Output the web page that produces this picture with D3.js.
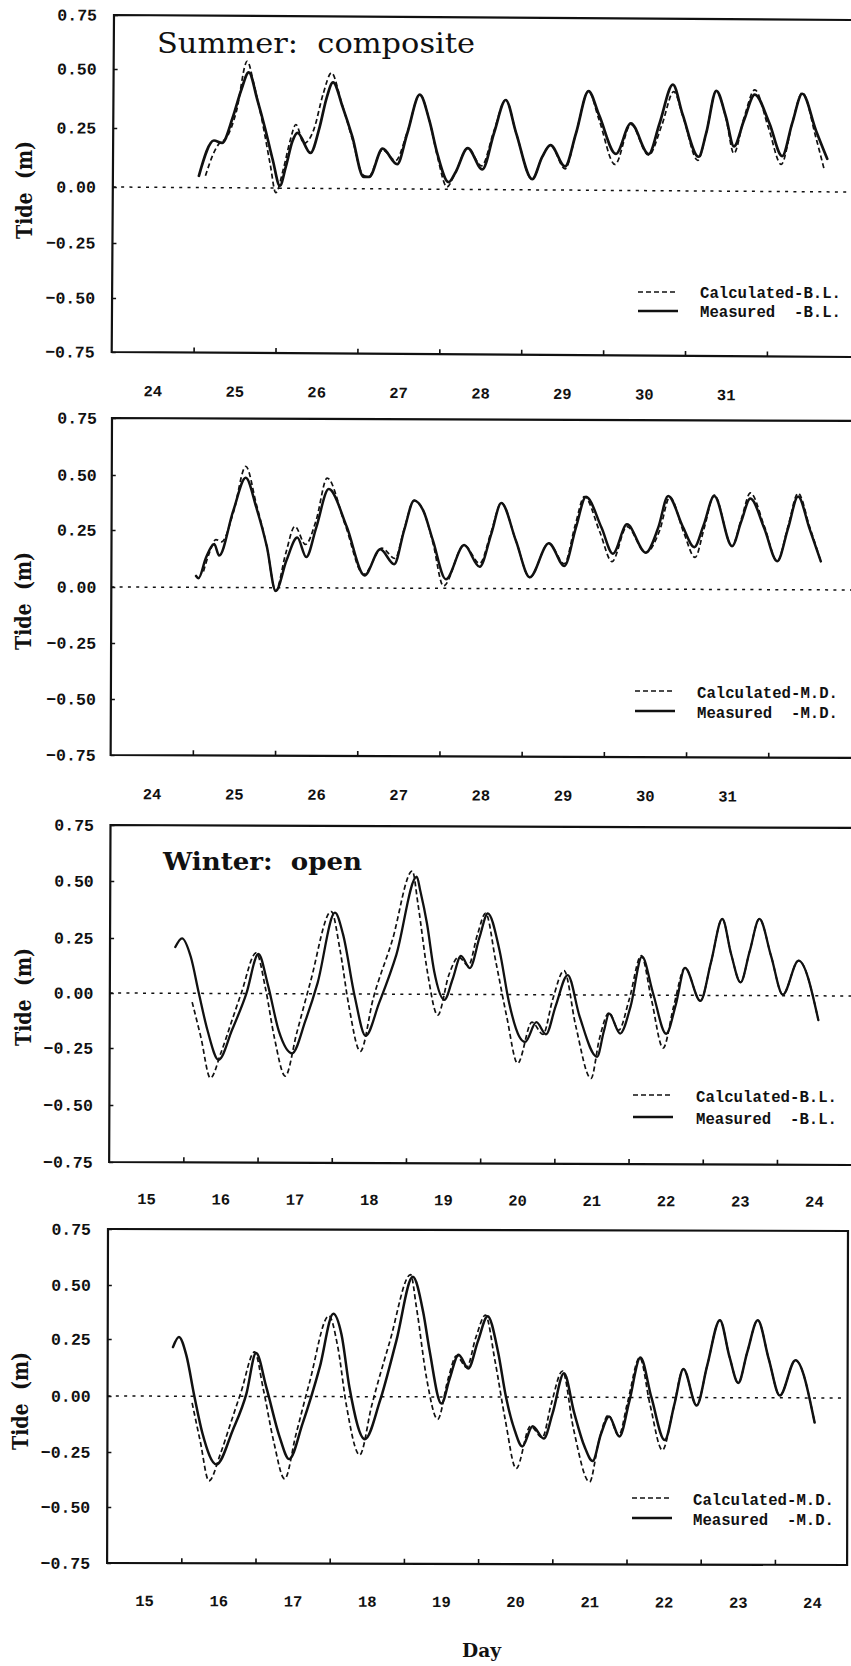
<!DOCTYPE html>
<html><head><meta charset="utf-8">
<script src="https://cdn.jsdelivr.net/npm/d3@7"></script>
<style>body{margin:0;background:#fff}svg{display:block}</style>
</head><body>
<svg id="c" width="851" height="1666"></svg>
<script>
// ---------- data ----------
const tideTicks = [0.75, 0.5, 0.25, 0, -0.25, -0.5, -0.75];
const summerDayLabels = ["24","25","26","27","28","29","30","31"];
const winterDayLabels = ["15","16","17","18","19","20","21","22","23","24"];
const summerTickDays = [25,26,27,28,29,30,31,32];
const winterTickDays = [16,17,18,19,20,21,22,23,24];

// Summer: composite, B.L.  [day, tide m]
const sumBLMeasured = [[25.05,0.05],[25.23,0.20],[25.33,0.19],[25.46,0.30],[25.56,0.415],[25.65,0.49],[25.76,0.37],[25.86,0.245],[25.95,0.12],[26.04,0.01],[26.11,0.09],[26.19,0.20],[26.25,0.235],[26.41,0.15],[26.52,0.26],[26.60,0.38],[26.68,0.45],[26.80,0.345],[26.92,0.22],[27.06,0.05],[27.13,0.05],[27.29,0.17],[27.47,0.105],[27.59,0.235],[27.74,0.40],[27.86,0.29],[27.96,0.15],[28.10,0.03],[28.18,0.07],[28.33,0.175],[28.51,0.085],[28.65,0.24],[28.79,0.38],[28.92,0.24],[29.12,0.045],[29.24,0.14],[29.34,0.19],[29.52,0.10],[29.65,0.24],[29.80,0.42],[29.93,0.32],[30.14,0.155],[30.32,0.285],[30.54,0.155],[30.67,0.285],[30.83,0.45],[30.95,0.325],[31.15,0.145],[31.24,0.245],[31.36,0.425],[31.48,0.315],[31.58,0.19],[31.70,0.30],[31.83,0.41],[32.01,0.29],[32.17,0.15],[32.29,0.29],[32.41,0.415],[32.58,0.26],[32.72,0.14]];
const sumBLCalculated = [[25.13,0.05],[25.22,0.14],[25.30,0.19],[25.38,0.21],[25.50,0.32],[25.63,0.54],[25.72,0.43],[25.82,0.28],[25.92,0.10],[25.99,-0.02],[26.08,0.08],[26.16,0.20],[26.23,0.27],[26.33,0.19],[26.45,0.25],[26.56,0.40],[26.66,0.49],[26.78,0.37],[26.92,0.21],[27.05,0.06],[27.12,0.05],[27.29,0.165],[27.45,0.12],[27.59,0.24],[27.74,0.40],[27.86,0.29],[27.96,0.14],[28.08,0.01],[28.18,0.07],[28.33,0.175],[28.50,0.10],[28.65,0.25],[28.79,0.38],[28.92,0.24],[29.12,0.045],[29.24,0.14],[29.34,0.19],[29.52,0.09],[29.65,0.24],[29.80,0.42],[29.93,0.30],[30.13,0.11],[30.32,0.28],[30.54,0.15],[30.70,0.28],[30.84,0.42],[30.96,0.31],[31.14,0.13],[31.24,0.245],[31.36,0.425],[31.48,0.31],[31.58,0.16],[31.70,0.31],[31.83,0.43],[32.00,0.27],[32.16,0.115],[32.29,0.29],[32.41,0.42],[32.58,0.23],[32.68,0.10]];

// Summer, M.D.
const sumMDMeasured = [[25.03,0.05],[25.06,0.04],[25.15,0.13],[25.25,0.19],[25.31,0.14],[25.48,0.34],[25.63,0.49],[25.76,0.355],[25.89,0.18],[26.00,-0.015],[26.13,0.12],[26.26,0.22],[26.37,0.135],[26.49,0.265],[26.64,0.44],[26.86,0.27],[27.08,0.055],[27.27,0.17],[27.44,0.105],[27.56,0.255],[27.68,0.39],[27.79,0.345],[27.91,0.21],[28.07,0.04],[28.29,0.19],[28.48,0.095],[28.62,0.24],[28.74,0.38],[28.92,0.21],[29.09,0.05],[29.32,0.20],[29.51,0.10],[29.65,0.27],[29.77,0.41],[29.96,0.27],[30.10,0.155],[30.27,0.285],[30.50,0.16],[30.65,0.27],[30.77,0.415],[30.95,0.275],[31.09,0.185],[31.20,0.28],[31.33,0.415],[31.55,0.19],[31.66,0.30],[31.77,0.405],[31.94,0.27],[32.10,0.125],[32.23,0.27],[32.35,0.415],[32.49,0.27],[32.63,0.125]];
const sumMDCalculated = [[25.12,0.07],[25.20,0.16],[25.27,0.21],[25.34,0.20],[25.48,0.33],[25.63,0.54],[25.76,0.37],[25.89,0.18],[26.00,-0.015],[26.12,0.15],[26.23,0.27],[26.36,0.19],[26.49,0.30],[26.62,0.49],[26.84,0.28],[27.07,0.06],[27.29,0.175],[27.45,0.13],[27.56,0.26],[27.68,0.39],[27.79,0.345],[27.91,0.20],[28.04,0.01],[28.29,0.19],[28.48,0.11],[28.62,0.25],[28.74,0.38],[28.92,0.21],[29.09,0.05],[29.32,0.20],[29.51,0.11],[29.64,0.28],[29.75,0.41],[29.94,0.25],[30.09,0.12],[30.27,0.275],[30.50,0.16],[30.67,0.26],[30.79,0.41],[30.96,0.25],[31.10,0.14],[31.21,0.27],[31.33,0.42],[31.55,0.19],[31.66,0.31],[31.77,0.43],[31.94,0.28],[32.10,0.125],[32.23,0.28],[32.35,0.43],[32.49,0.28],[32.63,0.125]];

// Winter: open, B.L.
const winBLMeasured = [[15.88,0.21],[15.97,0.25],[16.09,0.165],[16.20,0.0],[16.32,-0.17],[16.47,-0.30],[16.65,-0.165],[16.84,0.0],[17.00,0.18],[17.13,0.04],[17.28,-0.17],[17.46,-0.27],[17.64,-0.12],[17.80,0.05],[18.03,0.365],[18.14,0.27],[18.30,-0.01],[18.45,-0.19],[18.63,-0.04],[18.86,0.18],[19.13,0.525],[19.18,0.46],[19.27,0.32],[19.37,0.105],[19.51,-0.025],[19.62,0.07],[19.73,0.175],[19.85,0.12],[19.98,0.26],[20.09,0.365],[20.25,0.20],[20.38,-0.035],[20.52,-0.19],[20.60,-0.215],[20.75,-0.125],[20.88,-0.18],[21.01,-0.05],[21.17,0.09],[21.33,-0.095],[21.57,-0.28],[21.66,-0.165],[21.73,-0.085],[21.88,-0.175],[22.02,-0.05],[22.17,0.175],[22.32,0.01],[22.50,-0.175],[22.63,-0.04],[22.75,0.125],[22.96,-0.025],[23.10,0.15],[23.25,0.345],[23.37,0.19],[23.50,0.06],[23.62,0.20],[23.75,0.345],[23.91,0.18],[24.07,0.005],[24.28,0.16],[24.55,-0.11]];
const winBLCalculated = [[16.11,-0.04],[16.23,-0.20],[16.36,-0.38],[16.50,-0.27],[16.65,-0.12],[16.77,0.0],[16.97,0.185],[17.10,0.02],[17.22,-0.20],[17.37,-0.37],[17.52,-0.18],[17.70,0.05],[17.98,0.37],[18.10,0.20],[18.22,-0.05],[18.38,-0.26],[18.55,-0.02],[18.80,0.24],[19.07,0.55],[19.15,0.40],[19.28,0.10],[19.42,-0.095],[19.57,0.09],[19.70,0.17],[19.83,0.13],[19.95,0.27],[20.06,0.365],[20.20,0.15],[20.35,-0.10],[20.50,-0.31],[20.69,-0.125],[20.84,-0.18],[20.97,-0.02],[21.12,0.11],[21.28,-0.14],[21.49,-0.375],[21.60,-0.20],[21.73,-0.08],[21.86,-0.16],[22.00,-0.02],[22.16,0.18],[22.30,-0.02],[22.46,-0.24],[22.60,-0.05],[22.75,0.125],[22.96,-0.025],[23.10,0.15],[23.25,0.345],[23.37,0.19],[23.50,0.06],[23.62,0.20],[23.75,0.345],[23.91,0.18],[24.07,0.005],[24.28,0.16],[24.55,-0.11]];

// Winter, M.D.
const winMDMeasured = [[15.88,0.215],[15.96,0.26],[16.06,0.18],[16.17,0.0],[16.28,-0.165],[16.47,-0.305],[16.69,-0.15],[16.87,0.01],[17.00,0.19],[17.14,0.04],[17.32,-0.18],[17.45,-0.28],[17.63,-0.12],[17.86,0.13],[18.04,0.37],[18.15,0.275],[18.26,0.04],[18.47,-0.19],[18.67,-0.02],[18.89,0.245],[19.11,0.54],[19.25,0.38],[19.34,0.20],[19.50,-0.03],[19.61,0.08],[19.73,0.185],[19.86,0.125],[19.99,0.245],[20.12,0.36],[20.26,0.20],[20.37,0.0],[20.49,-0.15],[20.59,-0.22],[20.73,-0.13],[20.88,-0.185],[21.00,-0.07],[21.15,0.105],[21.29,-0.07],[21.43,-0.22],[21.54,-0.285],[21.65,-0.165],[21.76,-0.085],[21.90,-0.175],[22.03,-0.02],[22.18,0.175],[22.33,0.0],[22.51,-0.19],[22.64,-0.03],[22.76,0.125],[22.94,-0.035],[23.08,0.14],[23.25,0.345],[23.38,0.18],[23.50,0.065],[23.62,0.20],[23.76,0.345],[23.91,0.17],[24.06,0.01],[24.27,0.165],[24.53,-0.11]];
const winMDCalculated = [[16.14,-0.03],[16.25,-0.20],[16.37,-0.38],[16.52,-0.26],[16.66,-0.12],[16.80,0.02],[16.98,0.195],[17.10,0.03],[17.24,-0.20],[17.39,-0.37],[17.54,-0.17],[17.72,0.06],[17.98,0.36],[18.10,0.22],[18.22,-0.04],[18.40,-0.26],[18.56,-0.04],[18.80,0.24],[19.08,0.55],[19.16,0.40],[19.30,0.08],[19.45,-0.10],[19.59,0.08],[19.70,0.18],[19.84,0.13],[19.96,0.26],[20.09,0.365],[20.22,0.16],[20.36,-0.10],[20.51,-0.32],[20.70,-0.13],[20.86,-0.18],[20.98,-0.03],[21.13,0.115],[21.28,-0.14],[21.50,-0.38],[21.62,-0.20],[21.75,-0.08],[21.89,-0.17],[22.01,-0.02],[22.17,0.175],[22.31,-0.03],[22.48,-0.235],[22.62,-0.06],[22.76,0.125],[22.94,-0.035],[23.08,0.14],[23.25,0.345],[23.38,0.18],[23.50,0.065],[23.62,0.20],[23.76,0.345],[23.91,0.17],[24.06,0.01],[24.27,0.165],[24.53,-0.11]];

// ---------- layout ----------
const INK = "#111";
const MONO = "'Liberation Mono', 'DejaVu Sans Mono', monospace";
const SERIF = "'DejaVu Serif', 'Liberation Serif', serif";

const panels = [
  { meas: sumBLMeasured, calc: sumBLCalculated, dom: [24, 33], xr: [114, 851.1],
    ys: [15, 69, 128, 187, 243, 298, 352], tilt: 0.39, labels: summerDayLabels, ticks: summerTickDays,
    frameEnd: 880, zeroEnd: 880, yPad: 17, xPad: 33, solidW: 2.7,
    leg: { x: 638, y: [292, 311], tx: 700, tb: [298, 317], names: ["Calculated-B.L.", "Measured\u00A0\u00A0-B.L."] },
    tide: { x: 32, y: 190 } },
  { meas: sumMDMeasured, calc: sumMDCalculated, dom: [24, 33], xr: [112, 851.8],
    ys: [418, 475, 530, 587, 643, 699, 755], tilt: 0.23, labels: summerDayLabels, ticks: summerTickDays,
    frameEnd: 880, zeroEnd: 880, yPad: 15, xPad: 33, solidW: 2.5,
    leg: { x: 635, y: [691, 711], tx: 697, tb: [697.5, 717.5], names: ["Calculated-M.D.", "Measured\u00A0\u00A0-M.D."] },
    tide: { x: 31, y: 601 } },
  { meas: winBLMeasured, calc: winBLCalculated, dom: [15, 25], xr: [110.5, 852.5],
    ys: [825, 881, 938, 993, 1048, 1105, 1162], tilt: 0.23, labels: winterDayLabels, ticks: winterTickDays,
    frameEnd: 880, zeroEnd: 880, yPad: 16.5, xPad: 31, solidW: 2.3,
    leg: { x: 633, y: [1095, 1117], tx: 696, tb: [1101.5, 1123.5], names: ["Calculated-B.L.", "Measured\u00A0\u00A0-B.L."] },
    tide: { x: 31, y: 997 } },
  { meas: winMDMeasured, calc: winMDCalculated, dom: [15, 25], xr: [108, 850],
    ys: [1229, 1285, 1339, 1396, 1452, 1507, 1563], tilt: 0.155, labels: winterDayLabels, ticks: winterTickDays,
    frameEnd: 848, zeroEnd: 843, yPad: 17, xPad: 32, solidW: 2.5, rightBorder: true,
    leg: { x: 632, y: [1498, 1518], tx: 693, tb: [1505, 1525], names: ["Calculated-M.D.", "Measured\u00A0\u00A0-M.D."] },
    tide: { x: 28, y: 1401 } }
];

const svg = d3.select("#c");

panels.forEach(p => {
  const x = d3.scaleLinear().domain(p.dom).range(p.xr);
  const y = d3.scaleLinear().domain(tideTicks).range(p.ys);
  const x0 = p.xr[0], top = p.ys[0], bot = p.ys[p.ys.length - 1];
  const g = svg.append("g").attr("transform", `rotate(${p.tilt},${x0},${top})`);

  // zero reference line (dotted)
  g.append("line")
    .attr("x1", x0).attr("x2", p.zeroEnd).attr("y1", y(0)).attr("y2", y(0))
    .attr("stroke", INK).attr("stroke-width", 1.5).attr("stroke-dasharray", "3,5.3");

  const line = d3.line().x(d => x(d[0])).y(d => y(d[1])).curve(d3.curveMonotoneX);
  g.append("path").datum(p.calc).attr("d", line)
    .attr("fill", "none").attr("stroke", INK).attr("stroke-width", 1.7)
    .attr("stroke-dasharray", "5,3").attr("stroke-linejoin", "round");
  g.append("path").datum(p.meas).attr("d", line)
    .attr("fill", "none").attr("stroke", INK).attr("stroke-width", p.solidW)
    .attr("stroke-linejoin", "round").attr("stroke-linecap", "round");

  // frame
  let fr = `M${p.frameEnd},${top}L${x0},${top}L${x0},${bot}L${p.frameEnd},${bot}`;
  if (p.rightBorder) fr += `Z`;
  g.append("path").attr("d", fr).attr("fill", "none").attr("stroke", INK).attr("stroke-width", 2.2);

  // y axis (inward ticks)
  const ya = g.append("g").attr("transform", `translate(${x0},0)`)
    .call(d3.axisLeft(y).tickValues(tideTicks).tickSize(-4).tickPadding(p.yPad)
      .tickFormat(d => (d < 0 ? "\u2212" : "") + Math.abs(d).toFixed(2)));
  ya.select(".domain").remove();
  ya.selectAll("line").attr("stroke", INK).attr("stroke-width", 1.5);
  ya.selectAll("text").attr("fill", INK).style("font-family", MONO).style("font-weight", "bold").style("font-size", "16.5px");

  // x axis ticks (inward)
  const xa = g.append("g").attr("transform", `translate(0,${bot})`)
    .call(d3.axisBottom(x).tickValues(p.ticks).tickSize(-5).tickFormat(""));
  xa.select(".domain").remove();
  xa.selectAll("line").attr("stroke", INK).attr("stroke-width", 1.6);

  // day labels centred in each day
  const labelDays = p.labels.map(s => +s + 0.5);
  const xl = g.append("g").attr("transform", `translate(0,${bot})`)
    .call(d3.axisBottom(x).tickValues(labelDays).tickSize(0).tickPadding(p.xPad)
      .tickFormat(d => String(Math.floor(d))));
  xl.select(".domain").remove();
  xl.selectAll("text").attr("fill", INK).style("font-family", MONO).style("font-weight", "bold").style("font-size", "15.5px");

  // legend
  const L = p.leg;
  svg.append("line").attr("x1", L.x).attr("x2", L.x + 40).attr("y1", L.y[0]).attr("y2", L.y[0])
    .attr("stroke", INK).attr("stroke-width", 1.6).attr("stroke-dasharray", "5,3");
  svg.append("line").attr("x1", L.x).attr("x2", L.x + 40).attr("y1", L.y[1]).attr("y2", L.y[1])
    .attr("stroke", INK).attr("stroke-width", 2.6);
  L.names.forEach((n, i) => {
    svg.append("text").attr("x", L.tx).attr("y", L.tb[i]).text(n)
      .attr("fill", INK).style("font-family", MONO).style("font-weight", "bold").style("font-size", "16.5px")
      .attr("textLength", 141).attr("lengthAdjust", "spacingAndGlyphs");
  });

  // y title
  svg.append("text").attr("transform", `translate(${p.tide.x},${p.tide.y}) rotate(-90)`)
    .attr("text-anchor", "middle").text("Tide\u00A0\u00A0(m)")
    .attr("fill", INK).style("font-family", SERIF).style("font-weight", "bold").style("font-size", "22px")
    .attr("textLength", 98).attr("lengthAdjust", "spacingAndGlyphs");
});

// panel titles
svg.append("text").attr("x", 157).attr("y", 53).text("Summer:\u00A0\u00A0composite")
  .attr("fill", INK).style("font-family", SERIF).style("font-size", "28px")
  .attr("textLength", 318).attr("lengthAdjust", "spacingAndGlyphs");
svg.append("text").attr("x", 163).attr("y", 870).text("Winter:\u00A0\u00A0open")
  .attr("fill", INK).style("font-family", SERIF).style("font-weight", "bold").style("font-size", "25px")
  .attr("textLength", 199).attr("lengthAdjust", "spacingAndGlyphs");

// x title
svg.append("text").attr("x", 462).attr("y", 1657).text("Day")
  .attr("fill", INK).style("font-family", SERIF).style("font-weight", "bold").style("font-size", "18px")
  .attr("textLength", 39).attr("lengthAdjust", "spacingAndGlyphs");
</script>
</body></html>
